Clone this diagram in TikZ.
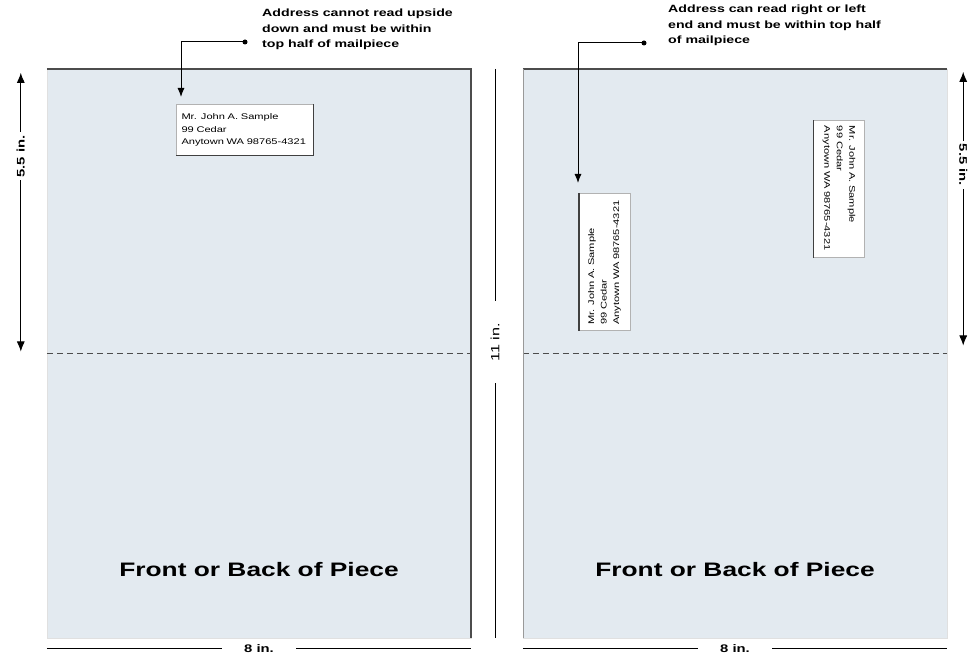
\documentclass[tikz,border=0pt]{standalone}
\usepackage{fontspec}
\setmainfont{Liberation Sans}[FakeStretch=1.35]
\usepackage{xcolor}
\usetikzlibrary{arrows.meta}
\definecolor{pagefill}{RGB}{227,234,240}

\begin{document}
\begin{tikzpicture}[
    x=1pt, y=1pt,
    page/.style={fill=pagefill, draw=black!12, minimum width=424pt,
                 minimum height=569pt, inner sep=0pt},
    pageedge/.style={line width=1.6pt, black!70},
    halfline/.style={line width=1pt, black!70, dash pattern=on 6pt off 4pt},
    % page caption
    title/.style={font=\fontsize{19.5}{22}\selectfont\bfseries},
    % dimension lines and their labels
    dimline/.style={line width=0.8pt, black},
    dimarrow/.style={line width=0.9pt, black,
                     {Latex[length=10pt,width=8pt]}-{Latex[length=10pt,width=8pt]}},
    dimlbl/.style={fill=white, inner sep=3pt, font=\fontsize{11}{11}\selectfont\bfseries},
    % call-outs
    note/.style={align=left, inner sep=0pt, font=\fontsize{10.5}{15.5}\selectfont\bfseries},
    dot/.style={circle, fill=black, inner sep=0pt, minimum size=5pt},
    leader/.style={line width=1pt, black, -{Latex[length=9pt,width=7pt]}},
    % address blocks
    addr/.style={draw=black!30, fill=white, minimum width=137pt, minimum height=51pt,
                 inner xsep=5.5pt, text width=126pt, align=left,
                 font=\fontsize{8.2}{12.5}\selectfont},
    addrshadow/.style={line width=1.4pt, black!75},
]
    \useasboundingbox (0,0) rectangle (975,659);

    % two pages with half line, caption and width
    \foreach \p/\cx in {L/259, R/735}{
        \node[page] (pg\p) at (\cx,305.5) {};
        \draw[halfline] (pg\p.west) -- (pg\p.east);
        \node[title, anchor=base] (ttl\p) at (\cx,82) {Front or Back of Piece};
        \draw[dimline] ([yshift=-10pt]pg\p.south west)
            -- node[dimlbl, inner xsep=22pt] (wd\p) {8 in.}
            ([yshift=-10pt]pg\p.south east);
    }

    % darker page edges
    \draw[pageedge] (pgL.north west) -- (pgL.north east) -- (pgL.south east);
    \draw[pageedge] (pgR.north west) -- (pgR.north east);
    \draw[black!40] (pgR.north west) -- (pgR.south west);

    % height between the pages
    \coordinate (hTop) at (495,590);
    \coordinate (hBot) at (495,21);
    \draw[dimline] (hTop) -- node[dimlbl, rotate=90, pos=0.48, inner xsep=22pt,
        font=\fontsize{12}{12}\selectfont] (ht) {11 in.} (hBot);

    % top half heights
    \draw[dimarrow] ([xshift=-26pt,yshift=-4pt]pgL.north west)
        -- node[dimlbl, rotate=90, pos=0.30] (hfL) {5.5 in.}
        ([xshift=-26pt,yshift=2pt]pgL.west);
    \draw[dimarrow] ([xshift=16pt,yshift=-3pt]pgR.north east)
        -- node[dimlbl, rotate=-90, pos=0.34] (hfR) {5.5 in.}
        ([xshift=16pt,yshift=8pt]pgR.east);

    % address blocks
    \node[addr] (addrL) at (244.5,529) {Mr. John A. Sample\\99 Cedar\\Anytown WA 98765-4321};
    \draw[addrshadow] (addrL.north east) -- (addrL.south east) -- (addrL.south west);
    \node[addr, rotate=90] (addrA) at (604.5,397) {Mr. John A. Sample\\99 Cedar\\Anytown WA 98765-4321};
    \draw[addrshadow] (addrA.north west) -- (addrA.north east);
    \node[addr, rotate=-90] (addrB) at (839,470) {Mr. John A. Sample\\99 Cedar\\Anytown WA 98765-4321};
    \draw[addrshadow] (addrB.south west) -- (addrB.south east);

    % call-outs with leaders
    \node[note, anchor=north west] (noteL) at (262,650)
        {Address cannot read upside\\down and must be within\\top half of mailpiece};
    \node[dot] (dotL) at (245,617) {};
    \coordinate (tipL) at (181,562);
    \draw[leader] (dotL.center) -| (tipL);

    \node[note, anchor=north west] (noteR) at (668,654)
        {Address can read right or left\\end and must be within top half\\of mailpiece};
    \node[dot] (dotR) at (644,616) {};
    \coordinate (tipR) at (578,476);
    \draw[leader] (dotR.center) -| (tipR);
\end{tikzpicture}
\end{document}
